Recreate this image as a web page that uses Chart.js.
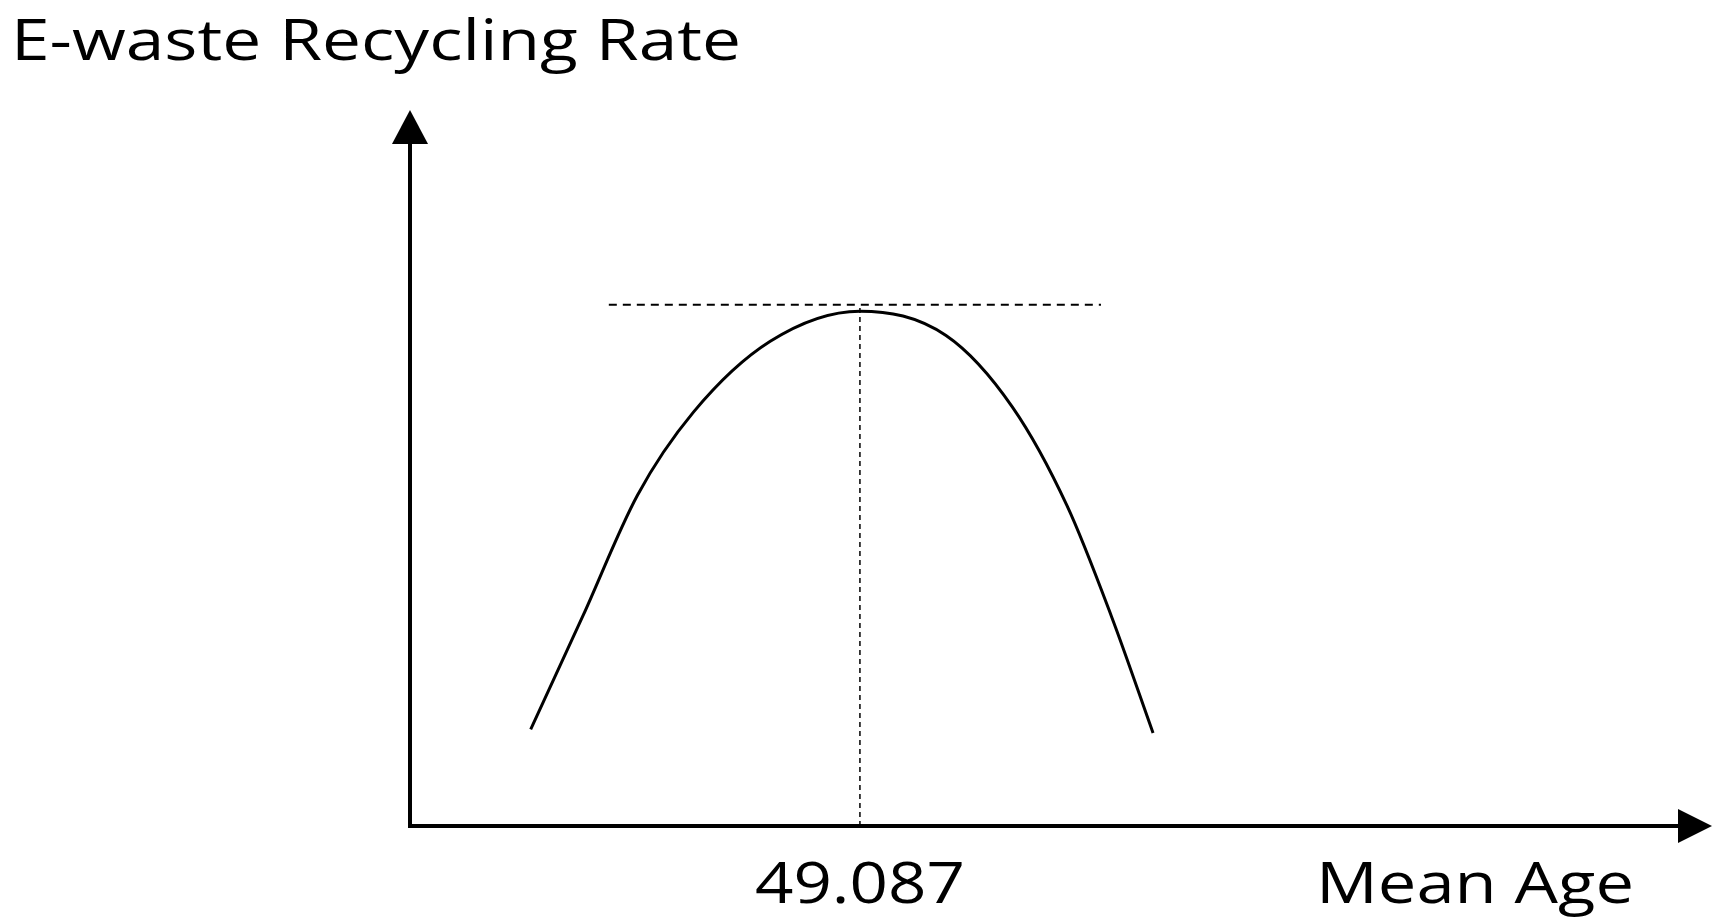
<!DOCTYPE html>
<html>
<head>
<meta charset="utf-8">
<style>
  html, body { margin: 0; padding: 0; background: #fff; }
  canvas { display: block; }
</style>
<script src="https://cdn.jsdelivr.net/npm/chart.js"></script>
</head>
<body>
<canvas id="chart" width="1724" height="924"></canvas>
<script>
// curve (arbitrary units)
var ageValues = [23.8, 27.8, 32.0, 36.3, 42.2, 49.087, 55.7, 60.8, 65.0, 68.4, 71.6];
var rateValues = [13.5, 29.3, 46.2, 57.8, 67.7, 71.9, 68.5, 58.5, 44.7, 29.3, 13.0];
var peakAge = 49.087;
var peakLine = 72.8;
var peakLineFrom = 29.8;
var peakLineTo = 67.6;
var xTickLabels = ["49.087"];
var yTitle = "E-waste Recycling Rate";
var xTitle = "Mean Age";

var curvePoints = ageValues.map(function (a, i) { return { x: a, y: rateValues[i] }; });

// axes with arrows and texts
var axesPlugin = {
    id: "axesArrows",
    afterDatasetsDraw: function (chart) {
        var ctx = chart.ctx;
        var xs = chart.scales.x, ys = chart.scales.y;
        var x0 = xs.getPixelForValue(xs.min), y0 = ys.getPixelForValue(0);
        var xEnd = xs.getPixelForValue(xs.max), yTop = ys.getPixelForValue(ys.max);
        ctx.save();
        ctx.strokeStyle = "#000";
        ctx.fillStyle = "#000";
        ctx.lineWidth = 4;
        ctx.beginPath();
        ctx.moveTo(x0, y0);
        ctx.lineTo(x0, yTop + 30);
        ctx.moveTo(x0 - 2, y0);
        ctx.lineTo(xEnd - 30, y0);
        ctx.stroke();
        // arrow heads
        ctx.beginPath();
        ctx.moveTo(x0, yTop);
        ctx.lineTo(x0 - 18, yTop + 34);
        ctx.lineTo(x0 + 18, yTop + 34);
        ctx.closePath();
        ctx.fill();
        ctx.beginPath();
        ctx.moveTo(xEnd, y0);
        ctx.lineTo(xEnd - 34, y0 - 17);
        ctx.lineTo(xEnd - 34, y0 + 17);
        ctx.closePath();
        ctx.fill();

        ctx.font = "56px 'Open Sans'";
        ctx.textBaseline = "alphabetic";
        function fitText(t, left, base, w) {
            var m = ctx.measureText(t).width;
            ctx.save();
            ctx.translate(left, base);
            ctx.scale(w / m, 1);
            ctx.fillText(t, 0, 0);
            ctx.restore();
        }
        fitText(yTitle, 11, 60, 730);
        var px = xs.getPixelForValue(peakAge);
        fitText(xTickLabels[0], px - 105, 903, 210);
        fitText(xTitle, 1316, 903, 318);
        ctx.restore();
    }
};

new Chart(document.getElementById("chart").getContext("2d"), {
    type: "scatter",
    data: {
        datasets: [{
            data: curvePoints,
            showLine: true,
            borderColor: "#000",
            borderWidth: 3,
            pointRadius: 0,
            tension: 0.4,
            cubicInterpolationMode: "monotone"
        }, {
            data: [{ x: peakLineFrom, y: peakLine }, { x: peakLineTo, y: peakLine }],
            showLine: true,
            borderColor: "#000",
            borderWidth: 1.8,
            borderDash: [8, 6],
            pointRadius: 0
        }, {
            data: [{ x: peakAge, y: 0 }, { x: peakAge, y: peakLine }],
            showLine: true,
            borderColor: "#000",
            borderWidth: 1.5,
            borderDash: [5, 4],
            pointRadius: 0
        }]
    },
    options: {
        responsive: false,
        animation: false,
        layout: { padding: { left: 410, right: 12, top: 110, bottom: 98 } },
        plugins: { legend: { display: false }, tooltip: { enabled: false } },
        scales: {
            x: { type: "linear", min: 14.53, max: 114.53, display: false },
            y: { type: "linear", min: 0, max: 100, display: false }
        }
    },
    plugins: [axesPlugin]
});
</script>
</body>
</html>
